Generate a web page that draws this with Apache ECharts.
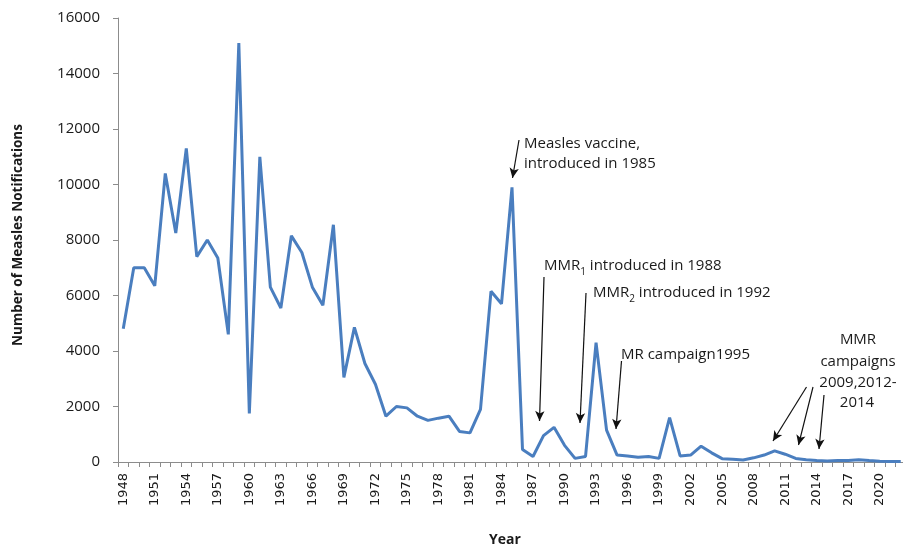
<!DOCTYPE html>
<html><head><meta charset="utf-8">
<script src="https://cdn.jsdelivr.net/npm/echarts@6/dist/echarts.min.js"></script>
<style>html,body{margin:0;padding:0;background:#fff}#c{width:903px;height:546px}</style>
</head><body><div id="c"></div>
<script>
const years = ['1948','1949','1950','1951','1952','1953','1954','1955','1956','1957','1958','1959','1960','1961','1962','1963','1964','1965','1966','1967','1968','1969','1970','1971','1972','1973','1974','1975','1976','1977','1978','1979','1980','1981','1982','1983','1984','1985','1986','1987','1988','1989','1990','1991','1992','1993','1994','1995','1996','1997','1998','1999','2000','2001','2002','2003','2004','2005','2006','2007','2008','2009','2010','2011','2012','2013','2014','2015','2016','2017','2018','2019','2020','2021','2022'];
const notifications = [4800,7000,7000,6350,10400,8250,11300,7400,8000,7350,4600,15100,1750,11000,6300,5550,8150,7550,6300,5650,8550,3050,4850,3550,2800,1650,2000,1950,1650,1500,1580,1650,1100,1050,1900,6150,5700,9900,450,200,950,1250,600,130,200,4300,1150,250,220,170,200,130,1600,220,250,570,330,120,100,70,150,250,400,280,130,80,50,40,50,50,80,50,30,20,20];
const yTicks = {min:0, max:16000, interval:2000};
const yAxisTitle = 'Number of Measles Notifications';
const xAxisTitle = 'Year';

const FONT = '"Open Sans", sans-serif';
const chart = echarts.init(document.getElementById('c'));
const ann = (x, y, text, align) => ({type:'text', x:x, y:y, silent:true,
  style:{text:text, fontFamily:FONT, fontSize:15, lineHeight:22, fill:'#1a1a1a', textAlign:align||'left', textVerticalAlign:'middle',
    rich:{s:{fontSize:10, lineHeight:12, verticalAlign:'bottom', fill:'#1a1a1a', fontFamily:FONT}}}});
chart.setOption({
  animation:false,
  backgroundColor:'#ffffff',
  grid:{left:118, right:-3, top:18, bottom:84, containLabel:false, outerBoundsMode:'none'},
  xAxis:{type:'category', data:years, boundaryGap:true,
    name:xAxisTitle, nameLocation:'middle', nameGap:71,
    nameTextStyle:{fontFamily:FONT, fontWeight:'bold', fontSize:14, color:'#1a1a1a', padding:[0,14,0,0]},
    axisLine:{lineStyle:{color:'#8c8c8c', width:1}},
    axisTick:{show:true, interval:0, length:5, lineStyle:{color:'#8c8c8c'}},
    axisLabel:{interval:2, rotate:90, margin:11, fontFamily:'"DejaVu Sans", sans-serif', fontSize:13, color:'#1a1a1a'},
    splitLine:{show:false}},
  yAxis:{type:'value', min:yTicks.min, max:yTicks.max, interval:yTicks.interval,
    name:yAxisTitle, nameLocation:'middle', nameGap:93,
    nameTextStyle:{fontFamily:FONT, fontWeight:'bold', fontSize:13.5, color:'#1a1a1a', padding:[0,0,0,10]},
    axisLine:{show:true, lineStyle:{color:'#8c8c8c', width:1}},
    axisTick:{show:true, length:5, lineStyle:{color:'#8c8c8c'}},
    axisLabel:{margin:18, fontFamily:FONT, fontSize:15, color:'#1a1a1a', formatter:v => String(v)},
    splitLine:{show:false}},
  series:[{type:'line', data:notifications, showSymbol:false, symbol:'none',
    lineStyle:{color:'#4a7ebf', width:3}, itemStyle:{color:'#4a7ebf'},
    markLine:{silent:true, animation:false, symbol:['none','arrow'], symbolSize:[7,10],
      lineStyle:{color:'#111', width:1.2, type:'solid'}, label:{show:false},
      emphasis:{disabled:true},
      data:[
        [{x:519,y:140},{x:512.5,y:178}],
        [{x:544,y:277},{x:539.5,y:421}],
        [{x:586,y:293},{x:580,y:423}],
        [{x:621.5,y:361},{x:616,y:429}],
        [{x:806.5,y:387},{x:773,y:441}],
        [{x:813,y:387},{x:798.5,y:445}],
        [{x:824,y:395},{x:819,y:449}]
      ]}}],
  graphic:[
    ann(524,144,'Measles vaccine,'),
    ann(524,164,'introduced in 1985'),
    ann(544,266,'MMR{s|1} introduced in 1988'),
    ann(593,293,'MMR{s|2} introduced in 1992'),
    ann(621,355,'MR campaign1995'),
    ann(858,340,'MMR','center'),
    ann(858,362,'campaigns','center'),
    ann(858,383,'2009,2012-','center'),
    ann(857,403,'2014','center')
  ]
});
</script></body></html>
